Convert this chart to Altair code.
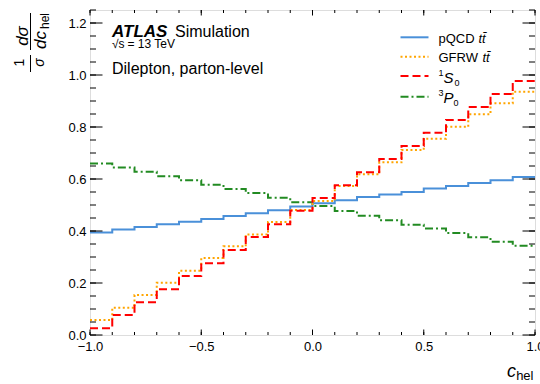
import altair as alt
import pandas as pd

# ---- data ----
edges = [-1.0, -0.9, -0.8, -0.7, -0.6, -0.5, -0.4, -0.3, -0.2, -0.1, 0.0,
         0.1, 0.2, 0.3, 0.4, 0.5, 0.6, 0.7, 0.8, 0.9, 1.0]
pqcd = [0.394, 0.406, 0.415, 0.426, 0.436, 0.446, 0.458, 0.468, 0.480, 0.494,
        0.507, 0.518, 0.531, 0.540, 0.550, 0.563, 0.573, 0.585, 0.595, 0.608]
gfrw = [0.058, 0.105, 0.154, 0.201, 0.247, 0.296, 0.341, 0.387, 0.435, 0.481,
        0.515, 0.573, 0.618, 0.664, 0.712, 0.755, 0.801, 0.849, 0.891, 0.936]
s0 = [0.026, 0.077, 0.126, 0.176, 0.227, 0.276, 0.327, 0.377, 0.426, 0.478,
      0.527, 0.576, 0.626, 0.677, 0.727, 0.778, 0.827, 0.877, 0.927, 0.977]
p0 = [0.660, 0.644, 0.628, 0.611, 0.595, 0.578, 0.562, 0.546, 0.528, 0.511,
      0.496, 0.477, 0.459, 0.441, 0.424, 0.410, 0.392, 0.376, 0.359, 0.343]

x_major = [-1.0, -0.5, 0.0, 0.5, 1.0]
x_minor = edges
y_major = [0.0, 0.2, 0.4, 0.6, 0.8, 1.0, 1.2]
y_minor = [0.0, 0.05, 0.1, 0.15, 0.2, 0.25, 0.3, 0.35, 0.4, 0.45, 0.5, 0.55,
           0.6, 0.65, 0.7, 0.75, 0.8, 0.85, 0.9, 0.95, 1.0, 1.05, 1.1, 1.15,
           1.2, 1.25]

W, H = 445, 325
FONT = "Liberation Sans"

xs = alt.Scale(domain=[-1, 1], nice=False, zero=False)
ys = alt.Scale(domain=[0, 1.25], nice=False, zero=False)
xax = alt.Axis(values=x_major, format=".1f", ticks=False, domain=False, grid=False,
               labelFont=FONT, labelFontSize=13, labelColor="black",
               labelPadding=5, title=None, labelFlush=False)
yax = alt.Axis(values=y_major, format=".1f", ticks=False, domain=False, grid=False,
               labelFont=FONT, labelFontSize=13, labelColor="black",
               labelPadding=4, title=None)


def step_df(vals):
    return pd.DataFrame({"x": edges, "y": vals + [vals[-1]]})


def line(vals, color, dash=None):
    kw = dict(color=color, strokeWidth=2, interpolate="step-after")
    if dash:
        kw["strokeDash"] = dash
    return alt.Chart(step_df(vals)).mark_line(**kw).encode(
        x=alt.X("x:Q", scale=xs, axis=xax),
        y=alt.Y("y:Q", scale=ys, axis=yax),
    )


BLUE = "#4a90d9"
ORANGE = "#ffa500"
RED = "#ff0000"
GREEN = "#228b22"

layers = [
    line(p0, GREEN, [8, 3, 2, 3]),
    line(pqcd, BLUE),
    line(gfrw, ORANGE, [2, 2.5]),
    line(s0, RED, [8, 4]),
]


# ---- inward ticks on all sides ----
def xticks(vals, length):
    d = pd.DataFrame({"v": vals})
    b = alt.Chart(d).mark_rule(color="black", strokeWidth=1).encode(
        x=alt.X("v:Q", scale=xs, axis=xax))
    return [b.encode(y=alt.value(H), y2=alt.value(H - length)),
            b.encode(y=alt.value(0), y2=alt.value(length))]


def yticks(vals, length):
    d = pd.DataFrame({"v": vals})
    b = alt.Chart(d).mark_rule(color="black", strokeWidth=1).encode(
        y=alt.Y("v:Q", scale=ys, axis=yax))
    return [b.encode(x=alt.value(0), x2=alt.value(length)),
            b.encode(x=alt.value(W), x2=alt.value(W - length))]


layers += xticks(x_minor, 3) + xticks(x_major, 5.5)
layers += yticks(y_minor, 6) + yticks(y_major, 12.5)


# ---- text helpers ----
def txt(s, x, y, size=13, style="normal", weight="normal", align="left",
        baseline="alphabetic", angle=0):
    return alt.Chart(pd.DataFrame({"t": [s]})).mark_text(
        font=FONT, fontSize=size, fontStyle=style, fontWeight=weight,
        align=align, baseline=baseline, angle=angle, color="black",
    ).encode(x=alt.value(x), y=alt.value(y), text="t:N")


def seg(x1, x2, y1, y2, color="black", width=1, dash=None):
    kw = dict(color=color, strokeWidth=width)
    if dash:
        kw["strokeDash"] = dash
    return alt.Chart(pd.DataFrame({"a": [0]})).mark_rule(**kw).encode(
        x=alt.value(x1), x2=alt.value(x2), y=alt.value(y1), y2=alt.value(y2))


# ATLAS label
layers += [
    txt("ATLAS", 22, 26.7, size=17, style="italic", weight="bold"),
    txt("Simulation", 85, 26.7, size=16),
    txt("√s", 22, 38, size=12),
    txt("= 13 TeV", 37.5, 38, size=12),
    txt("Dilepton, parton-level", 22, 64, size=16),
]

# legend
LX1, LX2, TX = 310.5, 338.5, 348.5
layers += [
    seg(LX1, LX2, 27.3, 27.3, BLUE, 2),
    txt("pQCD", TX, 32.5), txt("tt̄", TX + 40, 32.5, style="italic"),
    seg(LX1, LX2, 46.7, 46.7, ORANGE, 2, [2, 2.5]),
    txt("GFRW", TX, 52), txt("tt̄", TX + 44, 52, style="italic"),
    seg(LX1, LX2, 66, 66, RED, 2, [8, 4]),
    txt("1", TX, 65.5, size=9), txt("S", TX + 5, 72.5, size=15, style="italic"),
    txt("0", TX + 16, 76, size=9),
    seg(LX1, LX2, 86.7, 86.7, GREEN, 2, [8, 3, 2, 3]),
    txt("3", TX, 85.5, size=9), txt("P", TX + 5, 92.5, size=15, style="italic"),
    txt("0", TX + 15, 96, size=9),
]

# x title
layers += [
    txt("c", 426, 367, size=18, style="italic", align="right"),
    txt("hel", 443.5, 370, size=13, align="right"),
]

# y title (rotated fraction)
layers += [
    txt("1", -66.5, 52.5, size=14, align="center", angle=270),
    seg(-59.5, -59.5, 45, 62),
    txt("σ", -46.5, 52.5, size=14, style="italic", align="center", angle=270),
    txt("dσ", -62.5, 26, size=17, style="italic", align="center", angle=270),
    seg(-59.5, -59.5, 3, 40),
    txt("dc", -44.5, 30, size=17, style="italic", align="center", angle=270),
    txt("hel", -41.5, 11, size=12, align="center", angle=270),
]

chart = alt.layer(*layers).properties(
    width=W, height=H,
    padding={"left": 90, "top": 10, "right": 5, "bottom": 49},
    autosize=alt.AutoSizeParams(type="none"),
).configure_view(stroke="black", strokeWidth=1.2).configure(background="white")

chart.save("out.html", embed_options={"renderer": "svg", "actions": False})
